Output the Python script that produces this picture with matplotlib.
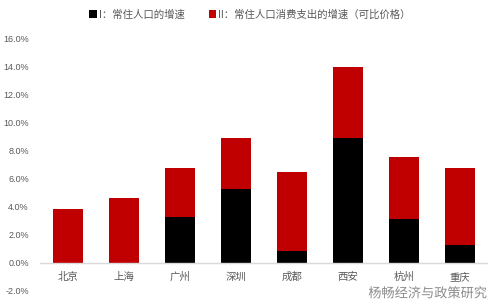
import numpy as np
import matplotlib.pyplot as plt
import matplotlib.patheffects as pe

plt.rcParams['font.family'] = ['Liberation Sans', 'Noto Sans CJK SC', 'DejaVu Sans']

cities = ["北京", "上海", "广州", "深圳", "成都", "西安", "杭州", "重庆"]
# I: 常住人口的增速 (%)
pop_growth = [-0.1, 0.0, 3.26, 5.23, 0.84, 8.9, 3.09, 1.24]
# 总增速 (I + II)
total_growth = [3.83, 4.59, 6.79, 8.9, 6.49, 13.95, 7.57, 6.79]
# II: 常住人口消费支出的增速 = 总 - I (北京 I 为负, 红柱从0开始)
cons_growth = [t - max(p, 0) for t, p in zip(total_growth, pop_growth)]
red_bottom = [max(p, 0) for p in pop_growth]

fig = plt.figure(figsize=(5, 3.04), dpi=100)
ax = fig.add_axes([0.08, 0.043, 0.896, 0.831])

x = np.arange(len(cities))
w = 0.52
ax.bar(x, pop_growth, w, color="black", label="I：常住人口的增速")
ax.bar(x, cons_growth, w, bottom=red_bottom, color="#c00000",
       label="II：常住人口消费支出的增速（可比价格）")

ax.set_xlim(-0.5, len(cities) - 0.5)
ax.set_ylim(-2, 16)
ax.set_yticks(np.arange(-2, 17, 2))
ax.set_yticklabels([f"{v:.1f}%" for v in np.arange(-2, 17, 2)])
ax.tick_params(axis="y", length=0, labelsize=6.5, labelcolor="#595959", pad=8)
ax.set_xticks([])
for s in ax.spines.values():
    s.set_visible(False)
ax.axhline(0, color="#d9d9d9", lw=1, zorder=3)

for i, c in enumerate(cities):
    ax.text(i, -1.0, c, ha="center", va="center", fontsize=7.5, color="#595959")

fig.legend(loc="upper center", bbox_to_anchor=(0.5, 1.0), ncol=2, frameon=False,
           fontsize=7.5, handlelength=0.7, handleheight=0.7, handletextpad=0.2,
           columnspacing=2.3, labelcolor="#595959")

# 水印
fig.text(0.975, 0.012, "杨畅经济与政策研究", fontsize=9.5, color="#8c8c8c",
         ha="right", va="bottom",
         path_effects=[pe.withStroke(linewidth=2.5, foreground="white")])

fig.savefig("out.png", dpi=100)
